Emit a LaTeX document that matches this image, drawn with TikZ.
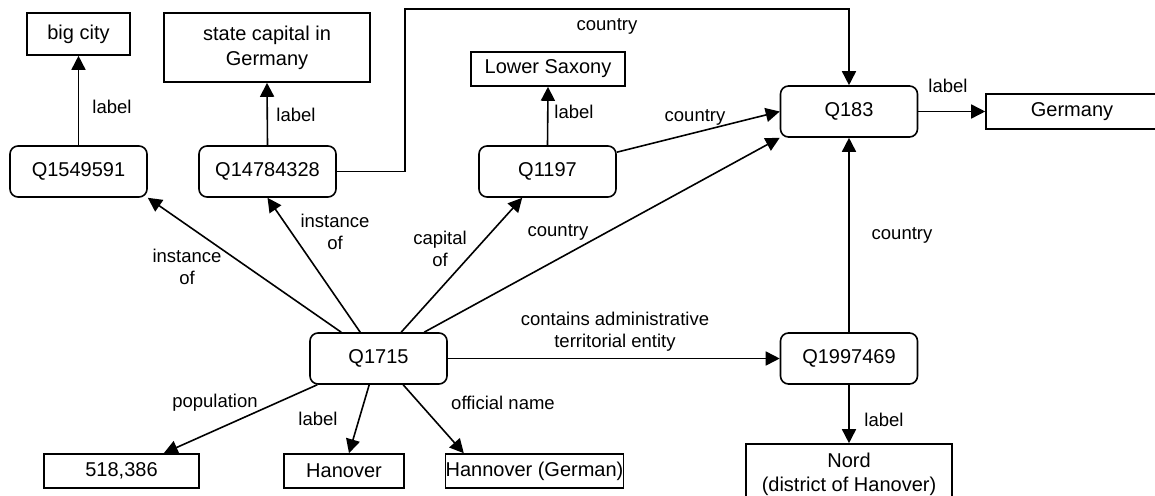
\documentclass[tikz,border=0pt]{standalone}
\usepackage{fontspec}
\setmainfont{Liberation Sans}
\usetikzlibrary{arrows.meta,calc}

\newcommand{\boxfont}{\fontsize{20}{25}\selectfont}
\newcommand{\edgefont}{\fontsize{18.5}{22}\selectfont}

\tikzset{
  ent/.style={draw, rounded corners=8pt, minimum width=137pt, minimum height=51pt,
              inner sep=0pt, line width=1.6pt, font=\boxfont, align=center},
  lit/.style={draw, minimum height=34pt, inner sep=0pt, line width=1.6pt,
              font=\boxfont, align=center},
  arr/.style={-{Triangle[length=14pt,width=14pt]}, line width=1.6pt},
  lab/.style={font=\edgefont, align=center, inner sep=0pt}
}

\begin{document}
\begin{tikzpicture}[x=1pt,y=-1pt]
\useasboundingbox (0,0) rectangle (1155,495);
\clip (0,0) rectangle (1155,495);

% item nodes
\node[ent] (q1549591) at (78.5,171.5) {Q1549591};
\node[ent] (q14784328) at (267.5,171.5) {Q14784328};
\node[ent] (q1197) at (547.5,171.5) {Q1197};
\node[ent] (q183) at (849,111.5) {Q183};
\node[ent] (q1715) at (378.5,358.5) {Q1715};
\node[ent] (q1997469) at (849,358.5) {Q1997469};

% literal nodes
\node[lit, minimum width=103pt, minimum height=42pt] (bigcity) at (78.5,34) {big city};
\node[lit, minimum width=206pt, minimum height=69pt] (statecap) at (267,47.5) {state capital in\\Germany};
\node[lit, minimum width=154pt] (lowsax) at (548,69) {Lower Saxony};
\node[lit, minimum width=172pt, minimum height=35pt] (germany) at (1072,111.5) {Germany};
\node[lit, minimum width=155pt] (pop) at (121.5,471) {518,386};
\node[lit, minimum width=120pt] (hanover) at (344,471) {Hanover};
\node[lit, minimum width=175pt] (offname) at (534.5,471) {Hannover (German)};
\node[lit, minimum width=206pt, minimum height=60pt, font=\fontsize{20}{24}\selectfont] (nord) at (849,474) {Nord\\(district of Hanover)};

% label edges
\draw[arr] (q1549591.north) -- (bigcity.south);
\draw[arr] (q14784328.north) -- (statecap.south);
\draw[arr] (q1197.north) -- (lowsax.south);
\draw[arr] (q183.east) -- (germany.west);
\draw[arr] (q1997469.south) -- (nord.north);

% country edges
\coordinate (bend) at (405,9);
\draw[arr] (q14784328.east) -| (bend) -| (q183.north);
\draw[arr] ($(q1197.north east)+(0,7)$) -- (q183.west);
\draw[arr] ($(q1715.north west)+(115,0)$) -- (q183.south west);
\draw[arr] (q1997469.north) -- (q183.south);

% edges leaving Q1715
\draw[arr] ($(q1715.north west)+(32,0)$) -- (q1549591.south east);
\draw[arr] ($(q1715.north west)+(51,0)$) -- (q14784328.south);
\draw[arr] ($(q1715.north west)+(92,0)$) -- ($(q1197.south west)+(44,0)$);
\draw[arr] (q1715.east) -- (q1997469.west);
\draw[arr] ($(q1715.south west)+(8,0)$) -- ($(pop.north east)+(-36,0)$);
\draw[arr] ($(q1715.south west)+(60,0)$) -- ($(hanover.north)+(5,0)$);
\draw[arr] ($(q1715.south west)+(94,0)$) -- ($(offname.north west)+(19,0)$);

% edge labels
\node[lab] (l1) at (112,107) {label};
\node[lab] (l2) at (296,115) {label};
\node[lab] (l3) at (574,112) {label};
\node[lab] (l4) at (948,86) {label};
\node[lab] (l5) at (607,26) {country};
\node[lab] (l6) at (695,117) {country};
\node[lab] (l7) at (558,232) {country};
\node[lab] (l8) at (902,235) {country};
\node[lab] (l9) at (187,267) {instance\\of};
\node[lab] (l10) at (335,232) {instance\\of};
\node[lab] (l11) at (440,249) {capital\\of};
\node[lab] (l12) at (615,332) {contains administrative\\territorial entity};
\node[lab] (l13) at (215,403) {population};
\node[lab] (l14) at (318,419) {label};
\node[lab] (l15) at (503,403) {official name};
\node[lab] (l16) at (884,420) {label};
\end{tikzpicture}
\end{document}
